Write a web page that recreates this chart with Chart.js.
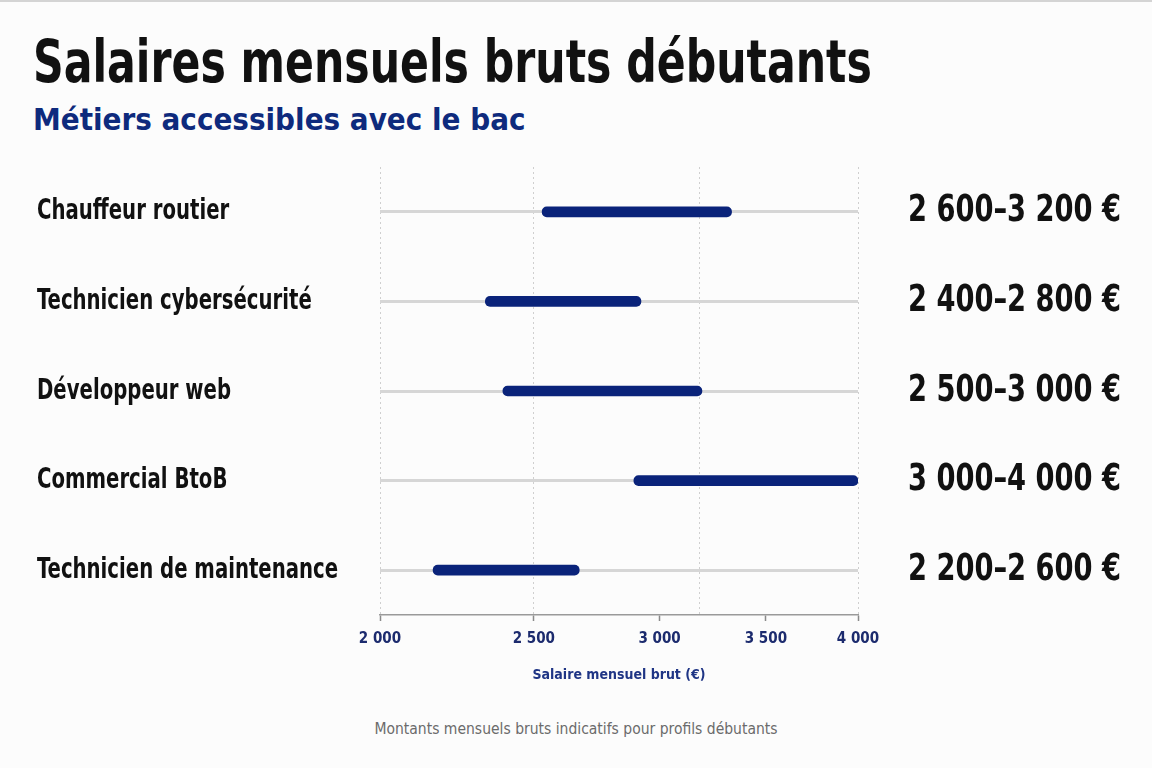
<!DOCTYPE html>
<html lang="fr">
<head>
<meta charset="utf-8">
<title>Salaires mensuels bruts débutants</title>
<script src="https://cdn.jsdelivr.net/npm/chart.js@4.4.1/dist/chart.umd.min.js"></script>
<style>
  html, body { margin: 0; padding: 0; background: #fcfcfc; }
  #wrap { position: relative; width: 1152px; height: 768px; overflow: hidden; border-top: 2px solid #d4d4d4; box-sizing: border-box; }
  .narrow { font-family: "Liberation Sans Narrow", "DejaVu Sans Condensed", Roboto, sans-serif; white-space: nowrap; }
  #title { position: absolute; left: 33px; top: 31px; margin: 0; font-size: 58px; line-height: 58px; font-weight: 700; color: #111;
           transform: scaleX(0.817); transform-origin: 0 0; }
  #subtitle { position: absolute; left: 33px; top: 102px; margin: 0; font-size: 31px; line-height: 31px; font-weight: 700; color: #0e2a7d; }
  #footer { position: absolute; left: 0; width: 1152px; top: 719px; text-align: center; font-size: 15.5px; line-height: 16px; color: #6b6b6b; }
  #chartBox { position: absolute; left: 0; top: 148px; width: 1152px; height: 550px; }
</style>
</head>
<body>
<div id="wrap">
  <h1 id="title" class="narrow">Salaires mensuels bruts débutants</h1>
  <h2 id="subtitle" class="narrow">Métiers accessibles avec le bac</h2>
  <div id="chartBox"><canvas id="salaryChart"></canvas></div>
  <div id="footer" class="narrow">Montants mensuels bruts indicatifs pour profils débutants</div>
</div>
<script>
/* DATA */
var metiers = ["Chauffeur routier", "Technicien cybersécurité", "Développeur web", "Commercial BtoB", "Technicien de maintenance"];
// bar extents as drawn in the picture
var barDebut = [2530, 2330, 2390, 2890, 2160];
var barFin = [3330, 2920, 3190, 4000, 2670];
// range labels as written on the right
var fourchettes = ["2 600–3 200 €", "2 400–2 800 €", "2 500–3 000 €", "3 000–4 000 €", "2 200–2 600 €"];
var xTicks = [2000, 2500, 3000, 3500, 4000];
var gridValues = [2000, 2500, 3180, 4000];

var FONT = '"Liberation Sans Narrow", "DejaVu Sans Condensed", Roboto, sans-serif';
var NAVY = "#0a237a";

function fmt(v) {
    return String(v).replace(/\B(?=(\d{3})+(?!\d))/g, " ");
}

// squeeze the labels of a scale horizontally around x0 (condensed look)
function condense(scale, x0, k) {
    if (scale._condensed) return;
    scale._condensed = true;
    scale._computeLabelArea = function() { return undefined; };
    var drawLabels = scale.drawLabels.bind(scale);
    scale.drawLabels = function(area) {
        var c = scale.ctx;
        c.save();
        c.translate(x0, 0);
        c.scale(k, 1);
        c.translate(-x0, 0);
        drawLabels(area);
        c.restore();
    };
}

/* DRAW CHART */
var ctx = document.getElementById("salaryChart").getContext("2d");
var salaryChart = new Chart(ctx, {
    type: "bar",
    data: {
        labels: metiers,
        datasets: [{
            label: "Salaire brut",
            data: barDebut.map(function(v, i) { return [v, barFin[i]]; }),
            backgroundColor: NAVY,
            borderRadius: 5,
            borderSkipped: false,
            barThickness: 10
        }]
    },
    options: {
        indexAxis: "y",
        responsive: true,
        maintainAspectRatio: false,
        animation: false,
        layout: { padding: { top: 17, left: 37, right: 0, bottom: 0 } },
        plugins: {
            legend: { display: false },
            tooltip: { enabled: false }
        },
        scales: {
            x: {
                type: "logarithmic",
                min: 2000,
                max: 4000,
                afterBuildTicks: function(scale) {
                    var vals = xTicks.concat(gridValues).filter(function(v, i, a) { return a.indexOf(v) === i; });
                    vals.sort(function(a, b) { return a - b; });
                    scale.ticks = vals.map(function(v) { return { value: v }; });
                },
                afterFit: function(scale) { scale.height = 85; },
                grid: {
                    color: function(c) {
                        return c.tick && gridValues.indexOf(c.tick.value) > -1 ? "#cfcfcf" : "transparent";
                    },
                    tickColor: function(c) {
                        return c.tick && xTicks.indexOf(c.tick.value) > -1 ? "#8a8a8a" : "transparent";
                    },
                    lineWidth: 1,
                    tickWidth: 1.5,
                    tickLength: 6
                },
                border: { display: true, color: "#9a9a9a", width: 1.5, dash: [2, 3] },
                ticks: {
                    autoSkip: false,
                    maxRotation: 0,
                    padding: 9,
                    color: "#1c2b6e",
                    font: { family: FONT, size: 15, weight: "bold" },
                    callback: function(v) { return xTicks.indexOf(v) > -1 ? fmt(v) : ""; }
                },
                title: {
                    display: true,
                    text: "Salaire mensuel brut (€)",
                    color: "#1f3585",
                    font: { family: FONT, size: 14, weight: "bold" },
                    padding: { top: 4, bottom: 16 }
                }
            },
            y: {
                afterFit: function(scale) {
                    scale.width = 343;
                    scale.paddingTop = 0;
                    scale.paddingBottom = 0;
                    condense(scale, 37, 0.755);
                },
                grid: { offset: false, color: "#d6d6d6", lineWidth: 3, drawTicks: false },
                border: { display: false },
                ticks: {
                    crossAlign: "far",
                    color: "#111",
                    font: { family: FONT, size: 29, weight: "bold" }
                }
            },
            y2: {
                type: "category",
                labels: fourchettes,
                position: "right",
                offset: true,
                afterFit: function(scale) {
                    scale.width = 294;
                    scale.paddingTop = 0;
                    scale.paddingBottom = 0;
                    condense(scale, 908, 0.82);
                },
                grid: { display: false, drawTicks: false },
                border: { display: false },
                ticks: {
                    crossAlign: "near",
                    padding: 50,
                    color: "#111",
                    font: { family: FONT, size: 37, weight: "bold" }
                }
            }
        }
    }
});
</script>
</body>
</html>
